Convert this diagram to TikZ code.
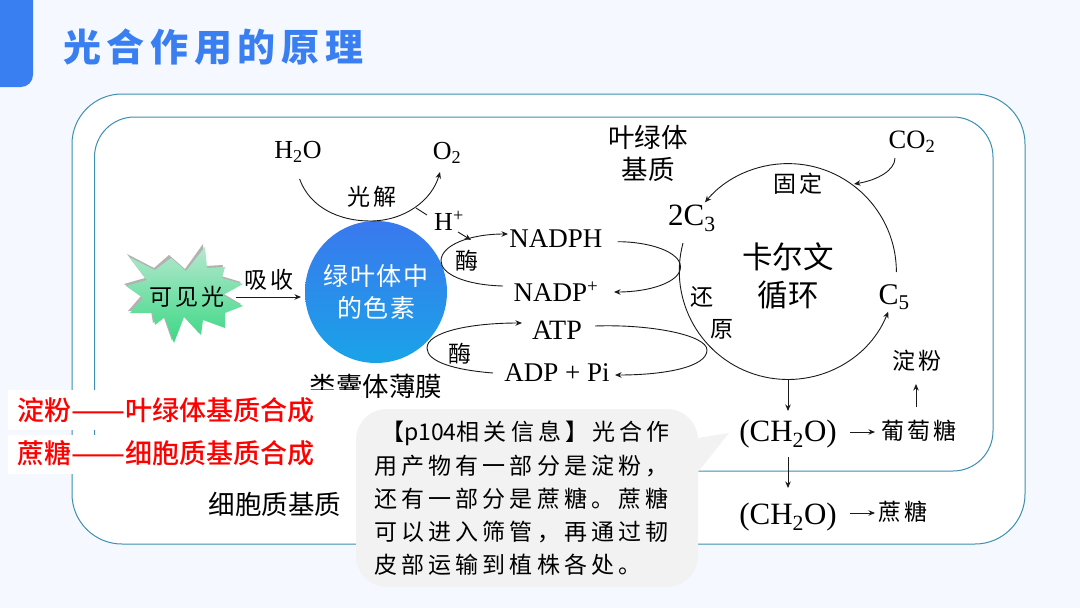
\documentclass[tikz,border=0pt]{standalone}
\usepackage{fontspec}
\setmainfont{Liberation Serif}
\newfontfamily\cjk{Noto Sans CJK SC}
\newfontfamily\cjkm{Noto Sans CJK SC Medium}
\newfontfamily\cjkt[LetterSpace=6]{Noto Sans CJK SC}
\newfontfamily\cjks[LetterSpace=13]{Noto Sans CJK SC}
\newfontfamily\cjkn[LetterSpace=18]{Noto Sans CJK SC}
\newfontfamily\cjkb[LetterSpace=15]{Noto Sans CJK SC Black}
\usetikzlibrary{arrows.meta,calc}
\definecolor{bgc}{HTML}{F5F9FF}
\definecolor{tabblue}{HTML}{3A7FF2}
\definecolor{frame}{HTML}{3C8FB0}
\definecolor{callout}{HTML}{F2F2F2}
\definecolor{ink}{HTML}{1A1A1A}
\definecolor{pigtop}{HTML}{3A78EE}
\definecolor{pigbot}{HTML}{1AA3E8}
\definecolor{startop}{HTML}{B5E8CE}
\definecolor{starmid}{HTML}{74DFA8}
\definecolor{starbot}{HTML}{3AD884}
\newcommand{\twodash}{\resizebox{54pt}{\height}{——}}
\tikzset{
  frameline/.style={draw=frame,line width=1pt,fill=white},
  flow/.style={draw=ink,line width=0.9pt,-{Stealth[length=6.5pt,width=5.5pt]}},
  plainflow/.style={draw=ink,line width=0.9pt},
  sci/.style={inner sep=0pt,text=black,font=\fontsize{27}{29}\selectfont},
  han/.style={inner sep=0pt,text=black,font=\cjk\fontsize{26.5}{28}\selectfont},
  small/.style={inner sep=0pt,text=black,font=\cjks\fontsize{23}{25}\selectfont},
  redline/.style={inner sep=0pt,anchor=west,text=red,font=\cjkm\fontsize{27}{29}\selectfont},
  noteline/.style={inner sep=0pt,anchor=west,text=black,font=\cjkn\fontsize{23}{25}\selectfont},
  patch/.style={fill=white,draw=none},
}
\begin{document}
\begin{tikzpicture}[x=1pt,y=-1pt]
\useasboundingbox (0,0) rectangle (1080,608);
\fill[bgc] (0,0) rectangle (1080,608);
% header tab
\fill[tabblue] (0,0) -- (33,0) -- (33,75) arc[start angle=0,end angle=-90,radius=12pt] -- (0,87) -- cycle;
\node[anchor=west,inner sep=0pt,text=tabblue,font=\cjkb\fontsize{38}{40}\selectfont] (title) at (63,47) {光合作用的原理};
% frames
\draw[frameline] (72,144) arc[start angle=180,end angle=90,radius=50pt] -- (975,94) arc[start angle=90,end angle=0,radius=50pt] -- (1025,494) arc[start angle=0,end angle=-90,radius=50pt] -- (122,544) arc[start angle=-90,end angle=-180,radius=50pt] -- cycle;
\draw[frameline] (94.5,157) arc[start angle=180,end angle=90,radius=40pt] -- (953,117) arc[start angle=90,end angle=0,radius=40pt] -- (993,431) arc[start angle=0,end angle=-90,radius=40pt] -- (134.5,471) arc[start angle=-90,end angle=-180,radius=40pt] -- cycle;
% star
\fill[gray!60] (127,254) -- (154,268) -- (169,255) -- (185,269) -- (203,244) -- (205,266) -- (223,265) -- (221,276) -- (241,282) -- (222,293) -- (241,304) -- (223,311) -- (223,326) -- (201,318) -- (199,333) -- (183,315) -- (172,341) -- (163,315) -- (153,323) -- (151,311) -- (128,311) -- (141,296) -- (124,284) -- (145,278) -- cycle;
\shade[top color=startop,middle color=starmid,bottom color=starbot] (129,257) -- (155,270) -- (171,258) -- (186,271) -- (205,247) -- (207,268) -- (225,267) -- (222,278) -- (243,284) -- (223,295) -- (243,306) -- (225,313) -- (225,328) -- (203,320) -- (201,335) -- (184,317) -- (174,343) -- (165,317) -- (155,325) -- (153,313) -- (130,313) -- (143,298) -- (126,286) -- (147,280) -- cycle;
\node[small] (light) at (187,297) {可见光};
\node[small] (absorb) at (269,280) {吸收};
% pigment
\node[circle,minimum size=142pt,inner sep=0pt,top color=pigtop,bottom color=pigbot] (pig) at (376,292) {};
\node[inner sep=0pt,text=white,align=center,font=\cjkt\fontsize{25}{32}\selectfont] (pigt) at (376,292) {绿叶体中\\的色素};
% membrane label
\node[han] (thy) at (376,386) {类囊体薄膜};
% white patches
\fill[patch] (8,390) rectangle (361,430);
\fill[patch] (8,435) rectangle (365,474);
\node[redline] (r1) at (17,410) {淀粉\twodash 叶绿体基质合成};
\node[redline] (r2) at (17,453.5) {蔗糖\twodash 细胞质基质合成};
\node[han] (cyto) at (275,504) {细胞质基质};
\node[han] (st1) at (648,137) {叶绿体};
\node[han] (st2) at (648,169) {基质};
% callout
\fill[callout] (356,440) arc[start angle=180,end angle=90,radius=31pt] -- (667,409) arc[start angle=90,end angle=0,radius=31pt] -- (698,438) -- (729,433) -- (698,472) -- (698,556) arc[start angle=0,end angle=-90,radius=31pt] -- (387,587) arc[start angle=-90,end angle=-180,radius=31pt] -- cycle;
\node[noteline] (n1) at (381,433) {【{\cjk p104}相关信息】光合作};
\node[noteline] (n2) at (374,466) {用产物有一部分是淀粉，};
\node[noteline] (n3) at (374,499) {还有一部分是蔗糖。蔗糖};
\node[noteline] (n4) at (374,532) {可以进入筛管，再通过韧};
\node[noteline] (n5) at (374,565) {皮部运输到植株各处。};
% formulas
\node[sci,font=\fontsize{26}{28}\selectfont] (h2o) at (298,152) {H\textsubscript{2}O};
\node[sci,font=\fontsize{26}{28}\selectfont] (o2) at (447,153) {O\textsubscript{2}};
\node[sci,font=\fontsize{26.5}{28}\selectfont] (co2) at (912,142) {CO\textsubscript{2}};
\node[sci,font=\fontsize{26}{28}\selectfont] (hp) at (449,221) {H\textsuperscript{+}};
\node[sci] (nadph) at (556,239) {NADPH};
\node[sci] (nadp) at (556,292) {NADP\textsuperscript{+}};
\node[sci,font=\fontsize{28}{30}\selectfont] (atp) at (557,330) {ATP};
\node[sci] (adp) at (557,373) {ADP + Pi};
\node[sci,font=\fontsize{31}{33}\selectfont] (c3) at (692,218) {2C\textsubscript{3}};
\node[sci,font=\fontsize{30}{32}\selectfont] (c5) at (894,297) {C\textsubscript{5}};
\node[sci,font=\fontsize{31}{33}\selectfont] (ch1) at (788,434) {(CH\textsubscript{2}O)};
\node[sci,font=\fontsize{31}{33}\selectfont] (ch2) at (788,517) {(CH\textsubscript{2}O)};
\node[small] (gluc) at (919,431) {葡萄糖};
\node[small] (sucr) at (903,512) {蔗糖};
\node[small] (starch) at (917,361) {淀粉};
\node[small] (photolysis) at (372,197) {光解};
\node[small] (enz1) at (467,261) {酶};
\node[small] (enz2) at (460,354) {酶};
\node[small] (fix) at (798,184) {固定};
\node[small] (red1) at (702,297) {还};
\node[small] (red2) at (722,329) {原};
\node[inner sep=0pt,text=black,align=center,font=\cjk\fontsize{30.5}{38}\selectfont] (calvin) at (788,276) {卡尔文\\循环};
% coordinates
\coordinate (wa) at (299.6,179);
\coordinate (wb) at (370,221);
\coordinate (wc) at (440,172);
\coordinate (hs) at (416,208);
\coordinate (he) at (427,215);
\coordinate (ha) at (458,232);
\coordinate (hb) at (471,240);
\coordinate (nb) at (503,286);
\coordinate (ne) at (508,234);
\coordinate (ab) at (493,373);
\coordinate (ae) at (522,323);
\coordinate (ns) at (617.5,241.7);
\coordinate (nt) at (614,292);
\coordinate (as) at (595,326);
\coordinate (at) at (615,375);
\coordinate (ra) at (896.4,272);
\coordinate (la) at (683,243);
\coordinate (bot) at (788,379);
\coordinate (b1) at (788,411);
\coordinate (b2s) at (788,457);
\coordinate (b2) at (788,488);
\coordinate (cc) at (895,158);
\coordinate (ce) at (854,184);
\coordinate (ga) at (850,432);
\coordinate (gb) at (875,432);
\coordinate (sa) at (850,513);
\coordinate (sb) at (875,513);
\coordinate (ua) at (916,407);
\coordinate (ub) at (916,384);
\coordinate (lighta) at (236,297);
\coordinate (lightb) at (301,297);
% connectors
\draw[flow] (wa) .. controls (310,208) and (340,221) .. (wb) .. controls (405,221) and (432,200) .. (wc);
\draw[plainflow] (hs) -- (he);
\draw[flow] (ha) -- (hb);
\draw[flow] (nb) .. controls (465,285) and (441,274) .. (441,261) .. controls (441,245) and (470,234) .. (ne);
\draw[flow] (ab) .. controls (455,370) and (427,362) .. (427,348) .. controls (427,332) and (470,323) .. (ae);
\draw[flow] (ns) .. controls (650,241.7) and (680.5,252) .. (680.5,267) .. controls (680.5,282) and (650,292) .. (nt);
\draw[flow] (as) .. controls (650,324) and (707,335) .. (707,350) .. controls (707,367) and (665,375) .. (at);
\draw[flow] (ra) arc[start angle=0,end angle=140,radius=108.4pt];
\draw[flow] (la) arc[start angle=165,end angle=338,radius=108.4pt];
\draw[flow] (bot) -- (b1);
\draw[flow] (b2s) -- (b2);
\draw[flow] (cc) .. controls (895,170) and (878,180) .. (ce);
\draw[flow] (lighta) -- (lightb);
\draw[flow] (ga) -- (gb);
\draw[flow] (sa) -- (sb);
\draw[flow] (ua) -- (ub);
\end{tikzpicture}
\end{document}
